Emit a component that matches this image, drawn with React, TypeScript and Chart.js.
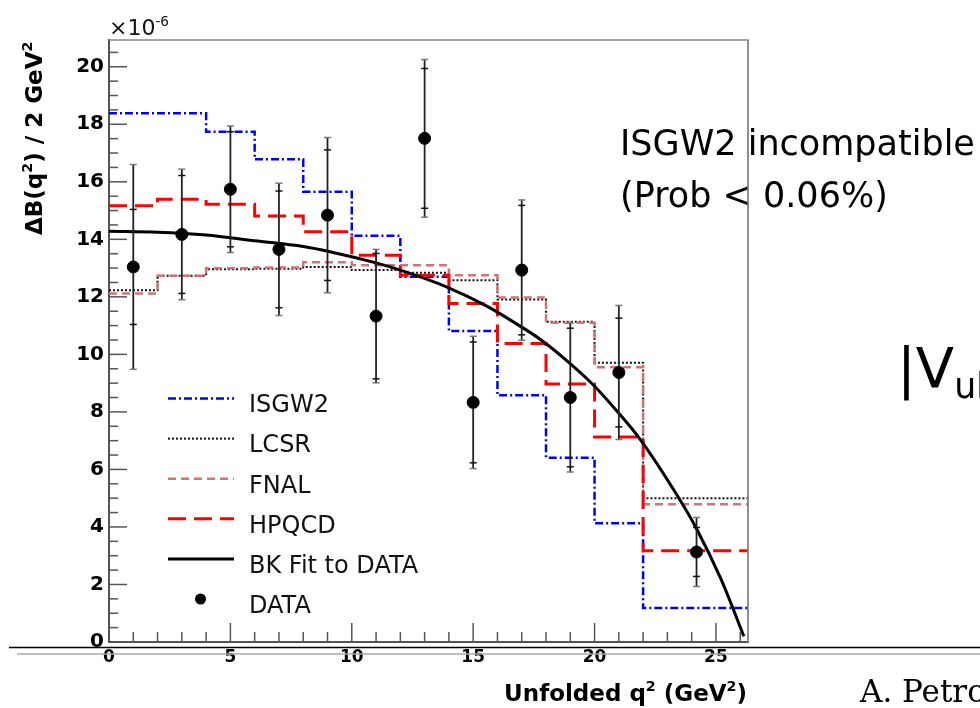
import { useEffect, useRef } from "react";
import { Chart, registerables } from "chart.js";
Chart.register(...registerables);

// ---------- data ----------
const X_MAX = 26.32;
const Y_MAX = 20.93;
const BIN_EDGES = [0, 2, 4, 6, 8, 10, 12, 14, 16, 18, 20, 22];
const ISGW2 = [18.38, 18.38, 17.74, 16.78, 15.65, 14.12, 12.7, 10.81, 8.58, 6.41, 4.13, 1.18];
const LCSR = [12.23, 12.73, 12.96, 12.98, 13.04, 12.93, 12.84, 12.58, 11.91, 11.13, 9.71, 5.0];
const FNAL = [12.12, 12.73, 12.99, 13.02, 13.2, 13.1, 13.1, 12.75, 11.98, 11.1, 9.55, 4.79];
const HPQCD = [15.17, 15.39, 15.22, 14.81, 14.26, 13.45, 12.75, 11.77, 10.38, 8.97, 7.13, 3.17];

const DATA_X = [1, 3, 5, 7, 9, 11, 13, 15, 17, 19, 21, 24.2];
const DATA_Y = [13.04, 14.17, 15.74, 13.65, 14.84, 11.33, 17.51, 8.33, 12.93, 8.5, 9.37, 3.13];
const STAT_ERR = [2.0, 2.05, 2.0, 2.03, 2.27, 2.18, 2.43, 2.1, 2.25, 2.41, 1.89, 0.85];
const TOT_ERR = [3.56, 2.27, 2.2, 2.3, 2.7, 2.32, 2.74, 2.3, 2.44, 2.59, 2.33, 1.2];

const FIT_X = [0, 2, 4, 6, 8, 9.1, 11, 12, 13.9, 15.6, 16.9, 17.8, 18.9, 19.9, 20.9, 21.9, 23.4, 24.2, 25.2, 26.15];
const FIT_Y = [14.28, 14.25, 14.15, 13.95, 13.75, 13.57, 13.18, 12.93, 12.35, 11.66, 11.0, 10.5, 9.75, 8.98, 8.05, 7.02, 5.1, 3.94, 2.2, 0.2];

const X_TICK_LABELS = [0, 5, 10, 15, 20, 25];
const Y_TICK_LABELS = [0, 2, 4, 6, 8, 10, 12, 14, 16, 18, 20];

const LEGEND_LABELS = ["ISGW2", "LCSR", "FNAL", "HPQCD", "BK Fit to DATA", "DATA"];

// ---------- styles ----------
const STY = {
  isgw2: { color: "#0000ff", width: 2.5, dash: [8, 3, 2, 3] },
  lcsr: { color: "#111111", width: 2, dash: [2, 2] },
  fnal: { color: "#d07474", width: 2.5, dash: [8, 5] },
  hpqcd: { color: "#ff0000", width: 3, dash: [18, 8] },
  fit: { color: "#000000", width: 3, dash: [] as number[] },
};

function histPoints(vals: number[]) {
  const pts = BIN_EDGES.map((e, i) => ({ x: e, y: vals[i] }));
  pts.push({ x: X_MAX, y: vals[vals.length - 1] });
  return pts;
}

type Part = { t: string; sup?: boolean; sub?: boolean };
function richWidth(ctx: CanvasRenderingContext2D, parts: Part[], size: number, weight: string, family: string) {
  let w = 0;
  for (const p of parts) {
    const s = p.sup || p.sub ? size * 0.62 : size;
    ctx.font = `${weight} ${s}px ${family}`;
    w += ctx.measureText(p.t).width;
  }
  return w;
}
function drawRich(ctx: CanvasRenderingContext2D, parts: Part[], x: number, y: number, size: number, weight: string, family: string) {
  let cx = x;
  ctx.textAlign = "left";
  ctx.textBaseline = "alphabetic";
  for (const p of parts) {
    const s = p.sup || p.sub ? size * 0.62 : size;
    ctx.font = `${weight} ${s}px ${family}`;
    const dy = p.sup ? -size * 0.42 : p.sub ? size * 0.2 : 0;
    ctx.fillText(p.t, cx, y + dy);
    cx += ctx.measureText(p.t).width;
  }
}

const ROOTFONT = "'DejaVu Sans'";

const decor = {
  id: "decor",
  beforeDatasetDraw(chart: any, args: any) {
    if (args.index !== 0) return;
    const xs = chart.scales.x;
    const ys = chart.scales.y;
    const ctx: CanvasRenderingContext2D = chart.ctx;
    ctx.save();
    ctx.setLineDash([]);
    DATA_X.forEach((xv, i) => {
      const px = xs.getPixelForValue(xv);
      const tT = ys.getPixelForValue(DATA_Y[i] + TOT_ERR[i]);
      const tB = ys.getPixelForValue(DATA_Y[i] - TOT_ERR[i]);
      const sT = ys.getPixelForValue(DATA_Y[i] + STAT_ERR[i]);
      const sB = ys.getPixelForValue(DATA_Y[i] - STAT_ERR[i]);
      ctx.strokeStyle = "#222";
      ctx.lineWidth = 1.8;
      ctx.beginPath();
      ctx.moveTo(px, tT);
      ctx.lineTo(px, tB);
      ctx.stroke();
      ctx.lineWidth = 1.5;
      ctx.strokeStyle = "#777";
      for (const yy of [tT, tB]) {
        ctx.beginPath();
        ctx.moveTo(px - 3.5, yy);
        ctx.lineTo(px + 3.5, yy);
        ctx.stroke();
      }
      ctx.strokeStyle = "#111";
      for (const yy of [sT, sB]) {
        ctx.beginPath();
        ctx.moveTo(px - 3.5, yy);
        ctx.lineTo(px + 3.5, yy);
        ctx.stroke();
      }
    });
    ctx.restore();
  },
  afterDraw(chart: any) {
    const ctx: CanvasRenderingContext2D = chart.ctx;
    const xs = chart.scales.x;
    const ys = chart.scales.y;
    const { left, right, top, bottom } = chart.chartArea;
    ctx.save();
    ctx.setLineDash([]);
    // frame top/right
    ctx.strokeStyle = "#888";
    ctx.lineWidth = 1.5;
    ctx.beginPath();
    ctx.moveTo(left, top);
    ctx.lineTo(right, top);
    ctx.lineTo(right, bottom);
    ctx.stroke();
    // ticks
    ctx.strokeStyle = "#555";
    ctx.lineWidth = 1.5;
    for (let k = 0; k <= Math.floor(Y_MAX * 2); k++) {
      const v = k / 2;
      const py = ys.getPixelForValue(v);
      const len = k % 4 === 0 ? 18 : 9;
      ctx.beginPath();
      ctx.moveTo(left, py);
      ctx.lineTo(left + len, py);
      ctx.stroke();
    }
    for (let k = 0; k <= Math.floor(X_MAX); k++) {
      const px = xs.getPixelForValue(k);
      const len = k % 5 === 0 ? 19 : 10;
      ctx.beginPath();
      ctx.moveTo(px, bottom);
      ctx.lineTo(px, bottom - len);
      ctx.stroke();
    }

    // legend
    const styles = [STY.isgw2, STY.lcsr, STY.fnal, STY.hpqcd, STY.fit];
    LEGEND_LABELS.forEach((lab, i) => {
      const ly = 398.5 + 40.1 * i;
      if (i < styles.length) {
        const s = styles[i];
        ctx.strokeStyle = s.color;
        ctx.lineWidth = s.width;
        ctx.setLineDash(s.dash);
        ctx.beginPath();
        ctx.moveTo(168, ly);
        ctx.lineTo(234, ly);
        ctx.stroke();
        ctx.setLineDash([]);
      } else {
        ctx.fillStyle = "#000";
        ctx.beginPath();
        ctx.arc(200.5, ly, 5.5, 0, Math.PI * 2);
        ctx.fill();
      }
      ctx.fillStyle = "#111";
      ctx.font = `24px ${ROOTFONT}`;
      ctx.textAlign = "left";
      ctx.textBaseline = "alphabetic";
      ctx.fillText(lab, 249, 412.3 + 40.1 * i);
    });

    // x10^-6
    ctx.fillStyle = "#111";
    drawRich(ctx, [{ t: "×10" }, { t: "-6", sup: true }], 109, 35, 22, "normal", ROOTFONT);

    // y title (rotated)
    ctx.save();
    ctx.translate(41.5, 235);
    ctx.rotate(-Math.PI / 2);
    ctx.fillStyle = "#000";
    drawRich(
      ctx,
      [{ t: "ΔB(q" }, { t: "2", sup: true }, { t: ") / 2 GeV" }, { t: "2", sup: true }],
      0,
      0,
      23,
      "bold",
      ROOTFONT
    );
    ctx.restore();

    // x title
    const xt: Part[] = [{ t: "Unfolded q" }, { t: "2", sup: true }, { t: " (GeV" }, { t: "2", sup: true }, { t: ")" }];
    const w = richWidth(ctx, xt, 23, "bold", ROOTFONT);
    ctx.fillStyle = "#000";
    drawRich(ctx, xt, 747 - w, 701, 23, "bold", ROOTFONT);

    // slide lines
    ctx.strokeStyle = "#000";
    ctx.lineWidth = 1.5;
    ctx.beginPath();
    ctx.moveTo(9, 647.5);
    ctx.lineTo(980, 647.5);
    ctx.stroke();
    ctx.strokeStyle = "#aaa";
    ctx.beginPath();
    ctx.moveTo(17, 654);
    ctx.lineTo(980, 654);
    ctx.stroke();

    // annotations
    ctx.fillStyle = "#000";
    ctx.font = `35px ${ROOTFONT}`;
    ctx.textAlign = "left";
    ctx.textBaseline = "alphabetic";
    ctx.fillText("ISGW2 incompatible", 620, 155);
    ctx.fillText("(Prob < 0.06%)", 620, 207);
    drawRich(ctx, [{ t: "|V" }, { t: "ub", sub: true }], 897, 387, 56, "normal", ROOTFONT);
    ctx.font = `31px 'DejaVu Serif'`;
    ctx.fillText("A. Petrov", 860, 702);

    // right frame line over annotation
    ctx.strokeStyle = "#888";
    ctx.lineWidth = 1.5;
    ctx.beginPath();
    ctx.moveTo(right, top);
    ctx.lineTo(right, bottom);
    ctx.stroke();
    ctx.restore();
  },
};

export default function App() {
  const ref = useRef<HTMLCanvasElement | null>(null);
  useEffect(() => {
    if (!ref.current) return;
    const lineDs = (label: string, data: any[], s: any, stepped: boolean) => ({
      type: "line" as const,
      label,
      data,
      borderColor: s.color,
      borderWidth: s.width,
      borderDash: s.dash,
      borderCapStyle: "butt",
      pointRadius: 0,
      fill: false,
      stepped,
      tension: 0,
    });
    const chart = new Chart(ref.current, {
      type: "line",
      data: {
        datasets: [
          {
            type: "scatter",
            label: "DATA",
            data: DATA_X.map((x, i) => ({ x, y: DATA_Y[i] })),
            pointRadius: 6,
            pointBackgroundColor: "#000",
            pointBorderColor: "#000",
            showLine: false,
          } as any,
          {
            ...lineDs("BK Fit to DATA", FIT_X.map((x, i) => ({ x, y: FIT_Y[i] })), STY.fit, false),
            cubicInterpolationMode: "monotone",
          } as any,
          lineDs("HPQCD", histPoints(HPQCD), STY.hpqcd, true) as any,
          lineDs("FNAL", histPoints(FNAL), STY.fnal, true) as any,
          lineDs("LCSR", histPoints(LCSR), STY.lcsr, true) as any,
          lineDs("ISGW2", histPoints(ISGW2), STY.isgw2, true) as any,
        ],
      },
      options: {
        animation: false,
        responsive: false,
        devicePixelRatio: 1,
        layout: { padding: { top: 40, right: 232, left: 0, bottom: 0 } },
        plugins: { legend: { display: false }, tooltip: { enabled: false } },
        scales: {
          x: {
            type: "linear",
            min: 0,
            max: X_MAX,
            afterFit: (s: any) => {
              s.height = 66;
            },
            grid: { display: false, drawTicks: false },
            border: { display: true, color: "#555", width: 2 },
            ticks: {
              stepSize: 1,
              autoSkip: false,
              maxRotation: 0,
              padding: 5,
              color: "#000",
              font: { family: "DejaVu Sans", weight: "bold", size: 17 },
              callback: (v: any) => (X_TICK_LABELS.includes(Number(v)) ? String(v) : ""),
            },
          },
          y: {
            type: "linear",
            min: 0,
            max: Y_MAX,
            afterFit: (s: any) => {
              s.width = 109;
            },
            grid: { display: false, drawTicks: false },
            border: { display: true, color: "#555", width: 2 },
            ticks: {
              stepSize: 2,
              autoSkip: false,
              padding: 5,
              color: "#000",
              font: { family: "DejaVu Sans", weight: "bold", size: 20 },
              callback: (v: any) => (Y_TICK_LABELS.includes(Number(v)) ? String(v) : ""),
            },
          },
        } as any,
      },
      plugins: [decor],
    } as any);
    return () => chart.destroy();
  }, []);
  return (
    <div style={{ position: "fixed", left: 0, top: 0, width: 980, height: 708, background: "#fff" }}>
      <canvas ref={ref} width={980} height={708} style={{ width: 980, height: 708, display: "block" }} />
    </div>
  );
}
